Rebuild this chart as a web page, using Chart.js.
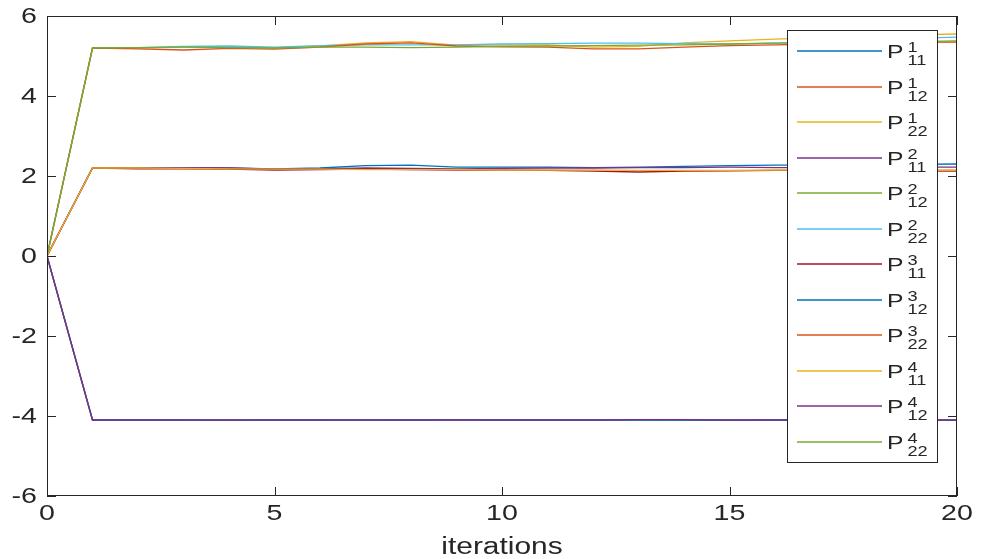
<!DOCTYPE html>
<html>
<head>
<meta charset="utf-8">
<script src="https://cdn.jsdelivr.net/npm/chart.js@4.4.1/dist/chart.umd.min.js"></script>
<style>
  html, body { margin: 0; padding: 0; background: #fff; }
  #wrap { width: 981px; height: 559px; }
</style>
</head>
<body>
<div id="wrap"><canvas id="grafico"></canvas></div>
<script>
// === Dati ===
const iterazioni = [0, 1, 2, 3, 4, 5, 6, 7, 8, 9, 10, 11, 12, 13, 14, 15, 16, 17, 18, 19, 20];

// apice / pedice per le etichette P^k_ij
const apici   = ["1", "1", "1", "2", "2", "2", "3", "3", "3", "4", "4", "4"];
const pedici  = ["11", "12", "22", "11", "12", "22", "11", "12", "22", "11", "12", "22"];

const colori = ["#0072BD", "#D95319", "#EDB120", "#7E2F8E", "#77AC30", "#4DBEEE",
                "#A2142F", "#0072BD", "#D95319", "#EDB120", "#7E2F8E", "#77AC30"];

const p1_11 = [0, 2.20, 2.20, 2.21, 2.20, 2.18, 2.20, 2.26, 2.27, 2.22, 2.22, 2.22, 2.21, 2.22, 2.24, 2.26, 2.27, 2.28, 2.28, 2.29, 2.30];
const p1_12 = [0, -4.10, -4.10, -4.11, -4.10, -4.10, -4.10, -4.11, -4.10, -4.10, -4.10, -4.10, -4.10, -4.09, -4.10, -4.10, -4.10, -4.11, -4.11, -4.11, -4.11];
const p1_22 = [0, 5.20, 5.20, 5.22, 5.22, 5.20, 5.25, 5.33, 5.36, 5.27, 5.27, 5.28, 5.22, 5.24, 5.33, 5.38, 5.42, 5.46, 5.50, 5.53, 5.55];
const p2_11 = [0, 2.20, 2.20, 2.21, 2.20, 2.17, 2.18, 2.20, 2.19, 2.18, 2.19, 2.20, 2.20, 2.21, 2.21, 2.22, 2.21, 2.21, 2.22, 2.22, 2.22];
const p2_12 = [0, -4.10, -4.10, -4.10, -4.10, -4.10, -4.11, -4.11, -4.10, -4.10, -4.10, -4.10, -4.10, -4.10, -4.10, -4.10, -4.11, -4.10, -4.10, -4.10, -4.10];
const p2_22 = [0, 5.20, 5.21, 5.24, 5.25, 5.22, 5.26, 5.28, 5.28, 5.28, 5.30, 5.31, 5.32, 5.32, 5.31, 5.30, 5.32, 5.35, 5.40, 5.44, 5.47];
const p3_11 = [0, 2.20, 2.18, 2.18, 2.17, 2.15, 2.16, 2.17, 2.16, 2.15, 2.15, 2.14, 2.12, 2.10, 2.12, 2.13, 2.14, 2.14, 2.14, 2.13, 2.12];
const p3_12 = [0, -4.10, -4.10, -4.10, -4.11, -4.10, -4.10, -4.10, -4.10, -4.09, -4.10, -4.10, -4.10, -4.10, -4.10, -4.11, -4.10, -4.10, -4.10, -4.10, -4.11];
const p3_22 = [0, 5.20, 5.18, 5.15, 5.19, 5.17, 5.22, 5.30, 5.33, 5.25, 5.23, 5.22, 5.18, 5.18, 5.22, 5.26, 5.28, 5.30, 5.32, 5.34, 5.35];
const p4_11 = [0, 2.20, 2.20, 2.19, 2.18, 2.17, 2.17, 2.16, 2.16, 2.16, 2.15, 2.15, 2.15, 2.14, 2.14, 2.14, 2.15, 2.15, 2.15, 2.15, 2.15];
const p4_12 = [0, -4.10, -4.10, -4.10, -4.10, -4.10, -4.10, -4.10, -4.10, -4.10, -4.10, -4.10, -4.10, -4.09, -4.09, -4.10, -4.10, -4.10, -4.10, -4.10, -4.10];
const p4_22 = [0, 5.20, 5.21, 5.22, 5.21, 5.20, 5.22, 5.22, 5.21, 5.22, 5.24, 5.25, 5.26, 5.27, 5.28, 5.30, 5.32, 5.34, 5.35, 5.36, 5.38];

const serie = [p1_11, p1_12, p1_22, p2_11, p2_12, p2_22, p3_11, p3_12, p3_22, p4_11, p4_12, p4_22];

const tickX = [0, 5, 10, 15, 20];
const tickY = [-6, -4, -2, 0, 2, 4, 6];
const titoloX = "iterations";

const FONT = "'Liberation Sans', Arial, Helvetica, sans-serif";
const GRIGIO = "#262626";
const STIRA = 1.3; // il grafico originale e' allargato in orizzontale

// testo allargato in orizzontale come nel riferimento
function testo(ctx, s, x, y, size, align, base) {
  ctx.save();
  ctx.translate(x, y);
  ctx.scale(STIRA, 1);
  ctx.font = size + "px " + FONT;
  ctx.textAlign = align;
  ctx.textBaseline = base;
  ctx.fillStyle = GRIGIO;
  ctx.fillText(s, 0, 0);
  ctx.restore();
}

// === Cornice, tacche interne, etichette e legenda stile MATLAB ===
const cornice = {
  id: "cornice",
  afterDatasetsDraw(chart) {
    const { ctx, chartArea: a, scales: { x, y } } = chart;
    ctx.save();
    ctx.strokeStyle = GRIGIO;
    ctx.lineWidth = 1;
    ctx.strokeRect(Math.round(a.left) + 0.5, Math.round(a.top) + 0.5,
                   Math.round(a.width) - 1, Math.round(a.height) - 1);

    const lt = 9;
    ctx.beginPath();
    tickX.forEach(v => {
      const px = Math.round(x.getPixelForValue(v)) + 0.5;
      ctx.moveTo(px, a.bottom); ctx.lineTo(px, a.bottom - lt);
      ctx.moveTo(px, a.top); ctx.lineTo(px, a.top + lt);
    });
    tickY.forEach(v => {
      const py = Math.round(y.getPixelForValue(v)) + 0.5;
      ctx.moveTo(a.left, py); ctx.lineTo(a.left + lt, py);
      ctx.moveTo(a.right, py); ctx.lineTo(a.right - lt, py);
    });
    ctx.stroke();

    // etichette degli assi
    tickX.forEach(v => testo(ctx, String(v), x.getPixelForValue(v), a.bottom + 24, 22, "center", "alphabetic"));
    tickY.forEach(v => testo(ctx, String(v), a.left - 10, y.getPixelForValue(v) + 1, 22, "right", "middle"));
    testo(ctx, titoloX, (a.left + a.right) / 2, 554, 23, "center", "alphabetic");

    // legenda
    const lx0 = 787, ly0 = 30, lx1 = 937, ly1 = 462;
    ctx.fillStyle = "#fff";
    ctx.fillRect(lx0, ly0, lx1 - lx0, ly1 - ly0);
    ctx.strokeStyle = GRIGIO;
    ctx.lineWidth = 1;
    ctx.strokeRect(lx0 + 0.5, ly0 + 0.5, lx1 - lx0, ly1 - ly0);

    serie.forEach((s, i) => {
      const yy = Math.round(51 + i * 35.5);
      ctx.strokeStyle = colori[i];
      ctx.lineWidth = 1.4;
      ctx.beginPath();
      ctx.moveTo(797, yy); ctx.lineTo(882, yy);
      ctx.stroke();

      testo(ctx, "P", 887, yy + 7, 19, "left", "alphabetic");
      testo(ctx, apici[i], 907.5, yy + 1, 14, "left", "alphabetic");
      testo(ctx, pedici[i], 907.5, yy + 14, 14, "left", "alphabetic");
    });
    ctx.restore();
  }
};

new Chart(document.getElementById("grafico"), {
  type: "line",
  data: {
    datasets: serie.map((s, i) => ({
      label: "P" + apici[i] + "_" + pedici[i],
      data: s.map((v, k) => ({ x: iterazioni[k], y: v })),
      borderColor: colori[i],
      borderWidth: 1.3,
      pointRadius: 0,
      tension: 0,
      fill: false,
      order: serie.length - i
    }))
  },
  options: {
    responsive: true,
    maintainAspectRatio: false,
    animation: false,
    events: [],
    layout: { padding: { top: 16, right: 24, left: 0, bottom: 0 } },
    plugins: {
      legend: { display: false },
      tooltip: { enabled: false }
    },
    scales: {
      x: {
        type: "linear",
        min: 0,
        max: 20,
        afterFit: s => { s.height = 63; },
        ticks: { display: false },
        grid: { display: false, drawTicks: false },
        border: { display: false }
      },
      y: {
        min: -6,
        max: 6,
        afterFit: s => { s.width = 47; },
        ticks: { display: false },
        grid: { display: false, drawTicks: false },
        border: { display: false }
      }
    }
  },
  plugins: [cornice]
});
</script>
</body>
</html>
